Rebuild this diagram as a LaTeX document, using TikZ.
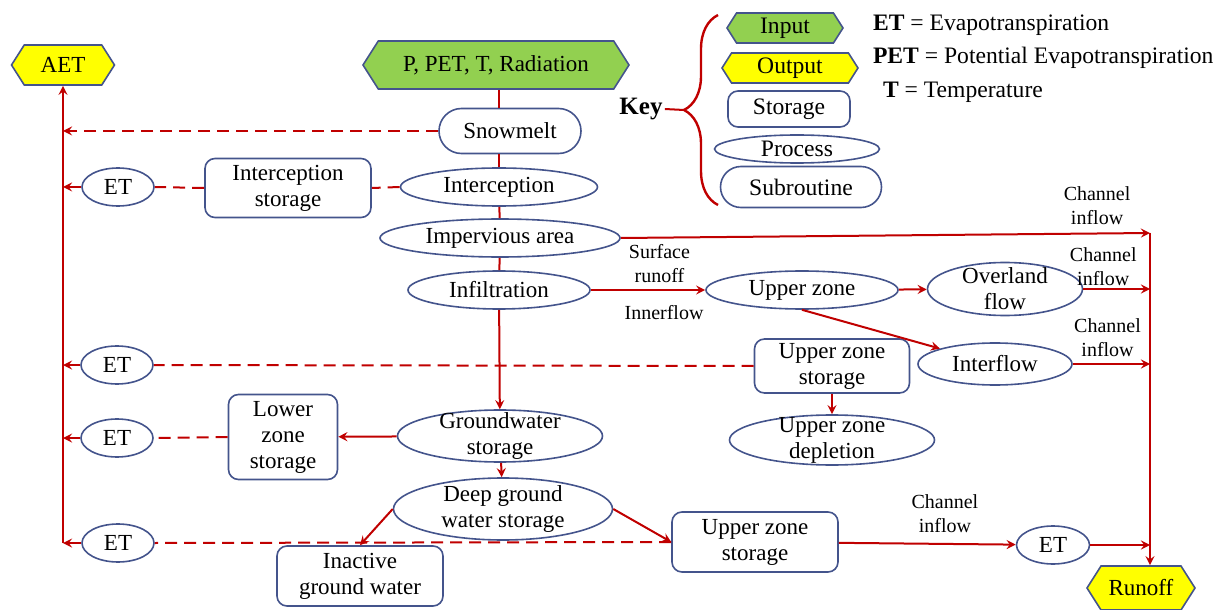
\documentclass[tikz,border=0pt]{standalone}
\usepackage{fontspec}
\setmainfont{Liberation Serif}
\usetikzlibrary{shapes.geometric, shapes.symbols, shapes.misc, arrows, decorations.pathreplacing}
\definecolor{flowRed}{RGB}{192,0,0}
\definecolor{lineBlue}{RGB}{68,84,140}
\definecolor{inGreen}{RGB}{146,208,80}
\definecolor{outYellow}{RGB}{255,255,0}
\tikzset{
    >=stealth, % small filled arrow heads
    every node/.style={font=\fontsize{11.5}{13}\selectfont}, % main text size
}

\begin{document}
\begin{tikzpicture}[
        x=0.5pt, y=-0.5pt,
        styleProc/.style={ellipse, draw=lineBlue, line width=0.8pt, fill=white, inner sep=0pt, align=center},
        styleProcTall/.style={styleProc, inner ysep=-6pt},
        styleStore/.style={rectangle, rounded corners=5pt, draw=lineBlue, line width=0.8pt, fill=white, inner sep=2pt, align=center},
        styleSub/.style={rounded rectangle, draw=lineBlue, line width=0.8pt, fill=white, inner sep=2pt},
        styleIn/.style={signal, signal to=west and east, signal pointer angle=115, draw=lineBlue, line width=0.8pt, fill=inGreen, inner sep=2pt},
        styleOut/.style={styleIn, fill=outYellow},
        styleFlow/.style={color=flowRed, line width=1pt},
        styleEt/.style={styleFlow, dash pattern=on 6pt off 3.5pt},
        styleNote/.style={text=black, font=\fontsize{10}{12}\selectfont, align=center, inner sep=1pt},
        styleKey/.style={font=\fontsize{11.8}{14}\selectfont},
    ]
    \useasboundingbox (0,0) rectangle (1222,610);

    % inputs and outputs
    \node[styleOut, minimum width=51.5pt, minimum height=20pt] (aet) at (63,65) {AET};
    \node[styleIn, minimum width=133pt, minimum height=24pt] (pin) at (496,65) {P, PET, T, Radiation};
    \node[styleOut, minimum width=54pt, minimum height=22pt] (runoff) at (1141,588) {Runoff};

    % central column
    \node[styleSub, minimum width=75pt, minimum height=22.5pt] (snow) at (510,131) {Snowmelt};
    \node[styleProc, minimum width=98.5pt, minimum height=19pt] (icpt) at (499,187) {Interception};
    \node[styleProc, minimum width=120pt, minimum height=19pt] (imp) at (500,238) {Impervious area};
    \node[styleProc, minimum width=91pt, minimum height=19pt] (infil) at (499,290) {Infiltration};
    \node[styleProcTall, minimum width=102.5pt, minimum height=26pt] (gws) at (500,436) {Groundwater\\storage};
    \node[styleProcTall, minimum width=109.5pt, minimum height=31pt] (deep) at (503,509) {Deep ground\\water storage};

    % storages on the left
    \node[styleStore, minimum width=83pt, minimum height=29.5pt] (icptSt) at (288,188) {Interception\\storage};
    \node[styleStore, minimum width=54.5pt, minimum height=42.5pt] (lzs) at (283,437) {Lower\\zone\\storage};
    \node[styleStore, minimum width=83pt, minimum height=30pt] (inact) at (360,576) {Inactive\\ground water};

    % ET nodes
    \node[styleProc, minimum width=36pt, minimum height=19pt] (et1) at (118,187) {ET};
    \node[styleProc, minimum width=36pt, minimum height=19pt] (et2) at (117,365) {ET};
    \node[styleProc, minimum width=36pt, minimum height=19pt] (et3) at (117,438) {ET};
    \node[styleProc, minimum width=36pt, minimum height=19pt] (et4) at (118,543) {ET};
    \node[styleProc, minimum width=36.5pt, minimum height=19pt] (et5) at (1053,545) {ET};

    % upper zone part
    \node[styleProc, minimum width=96pt, minimum height=19pt] (upper) at (802,290) {Upper zone};
    \node[styleProcTall, minimum width=77.5pt, minimum height=26.5pt] (over) at (1005,289) {Overland\\flow};
    \node[styleProc, minimum width=77pt, minimum height=21pt] (inter) at (995,364) {Interflow};
    \node[styleStore, minimum width=77.5pt, minimum height=26pt] (uzs) at (832,366) {Upper zone\\storage};
    \node[styleProcTall, minimum width=102.5pt, minimum height=25pt] (uzd) at (832,440) {Upper zone\\depletion};
    \node[styleStore, minimum width=83pt, minimum height=30pt] (uzs2) at (755,542) {Upper zone\\storage};

    \coordinate (railTop) at (1150,233);
    \coordinate (railLeft) at (63,543);
    \coordinate (keyTip) at (684,110);

    % key
    \node[styleKey, font=\bfseries\fontsize{12.5}{15}\selectfont, inner sep=1pt] (key) at (641,109) {Key};
    \draw[flowRed, line width=1.2pt, decorate, decoration={brace, amplitude=17pt}] (718,205) -- (718,15);
    \node[styleIn, styleKey, minimum width=58pt, minimum height=15pt, inner sep=0pt] (kIn) at (785,28) {Input};
    \node[styleOut, styleKey, minimum width=68pt, minimum height=15pt, inner sep=0pt] (kOut) at (790,68) {Output};
    \node[styleStore, styleKey, minimum width=61pt, minimum height=18pt] (kSt) at (789,109) {Storage};
    \node[styleProc, styleKey, minimum width=82.5pt, minimum height=14pt, inner ysep=-1pt] (kProc) at (797,149) {Process};
    \node[styleSub, styleKey, minimum width=84.5pt, minimum height=20.5pt] (kSub) at (801,187) {Subroutine};
    \node[styleKey, anchor=west] (lgEt) at (866,25) {\textbf{ET} = Evapotranspiration};
    \node[styleKey, anchor=west] (lgPet) at (866,58) {\textbf{PET} = Potential Evapotranspiration};
    \node[styleKey, anchor=west] (lgT) at (876,92) {\textbf{T} = Temperature};
    \draw[styleFlow] (key.east) -- (keyTip);

    % main flow
    \draw[styleFlow]
    (pin.south -| infil) edge (snow.north -| infil)
    (snow.south -| infil) edge (icpt.north -| infil)
    (icpt) edge (imp)
    (imp) edge (infil)
    (infil) edge[->] (gws)
    (gws) edge[->] (deep)
    (gws) edge[->] (lzs)
    (deep.west) edge[->] (inact.north)
    (deep.east) edge[->] (uzs2.west)
    (infil) edge[->] node[styleNote, above=2pt, pos=0.6] {Surface\\runoff} node[styleNote, below=6pt, pos=0.64] {Innerflow} (upper)
    (upper) edge[->] (over)
    (upper.south) edge[->] (inter.north west)
    (uzs) edge[->] (uzd)
    (uzs2) edge[->] node[styleNote, above=4pt, pos=0.6] {Channel\\inflow} (et5);

    % channel inflow to runoff
    \draw[styleFlow]
    (imp.east) edge[->] node[styleNote, above=3pt, pos=0.9] {Channel\\inflow} (railTop)
    (over.east) edge[->] node[styleNote, above, pos=0.3] {Channel\\inflow} (over.east -| railTop)
    (inter.east) edge[->] node[styleNote, above=2pt, pos=0.45] {Channel\\inflow} (inter.east -| railTop)
    (et5.east) edge[->] (et5.east -| railTop)
    (railTop) edge[->] (railTop |- runoff.north);

    % evapotranspiration to AET
    \draw[styleFlow]
    (railLeft) edge[->] (aet.south)
    (et1.west) edge[->] (et1.west -| railLeft);
    \draw[styleEt]
    (snow.west) edge[->] (snow.west -| railLeft)
    (icpt.west) edge (icptSt.east)
    (icptSt.west) edge (et1.east)
    (uzs.west) edge (et2.east)
    (et2.west) edge[->] (et2.west -| railLeft)
    (lzs.west) edge (et3.east)
    (et3.west) edge[->] (et3.west -| railLeft)
    (uzs2.west) edge (et4.east)
    (et4.west) edge[->] (et4.west -| railLeft);
\end{tikzpicture}
\end{document}
